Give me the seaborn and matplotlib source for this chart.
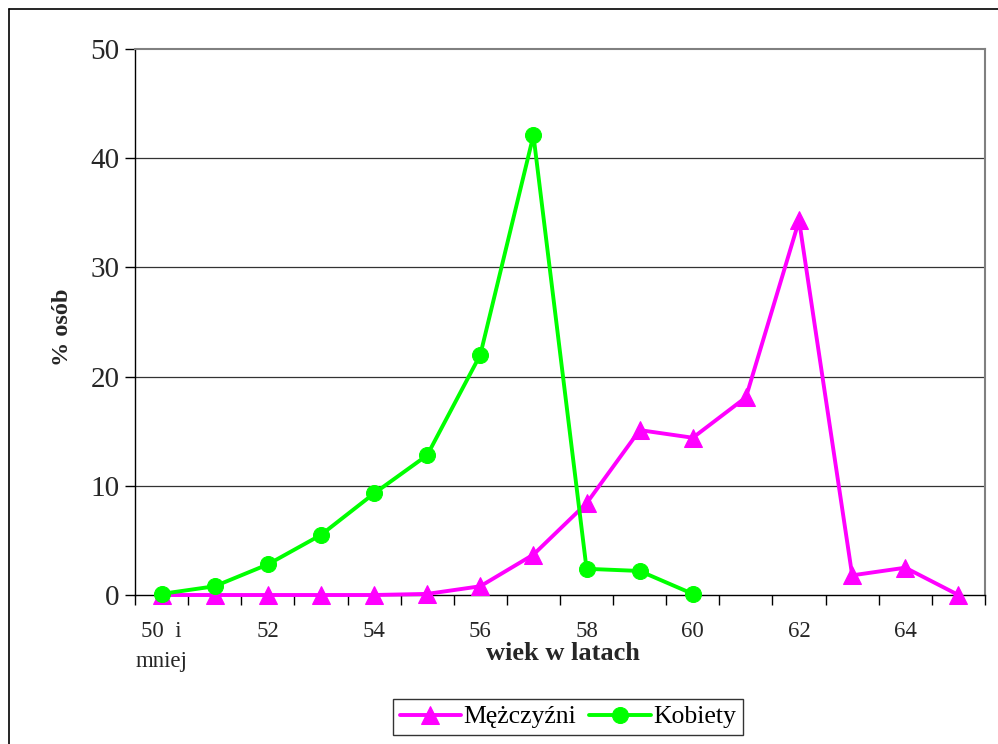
import matplotlib
matplotlib.use("Agg")
import matplotlib.pyplot as plt
from matplotlib.lines import Line2D
import numpy as np
import pandas as pd
import seaborn as sns

# dane
wiek = ["50  i\nmniej", "51", "52", "53", "54", "55", "56", "57",
        "58", "59", "60", "61", "62", "63", "64", "65"]
mezczyzni = [0.0, 0.0, 0.0, 0.0, 0.0, 0.1, 0.8, 3.7,
             8.4, 15.1, 14.4, 18.1, 34.3, 1.8, 2.5, 0.0]
kobiety = [0.1, 0.8, 2.8, 5.5, 9.3, 12.8, 22.0, 42.1, 2.4, 2.2, 0.1]
y_ticks = [0, 10, 20, 30, 40, 50]

C_MEN = "#FF00FF"
C_WOMEN = "#00FF00"

sns.set_theme(style="white")
plt.rcParams['font.family'] = ['Liberation Serif', 'DejaVu Serif']
plt.rcParams['text.color'] = 'black'

df_m = pd.DataFrame({'x': np.arange(len(mezczyzni)), 'y': mezczyzni})
df_k = pd.DataFrame({'x': np.arange(len(kobiety)), 'y': kobiety})

fig = plt.figure(figsize=(9.98, 7.44), dpi=100)
ax = fig.add_axes([135 / 998, 1 - 595 / 744, 850 / 998, 546 / 744])

sns.lineplot(data=df_m, x='x', y='y', ax=ax, color=C_MEN, linewidth=2.8,
             marker='^', markersize=13, markeredgecolor=C_MEN, label='Mężczyźni',
             clip_on=False, zorder=3)
sns.lineplot(data=df_k, x='x', y='y', ax=ax, color=C_WOMEN, linewidth=2.8,
             marker='o', markersize=11.5, markeredgecolor=C_WOMEN, label='Kobiety',
             clip_on=False, zorder=4)

ax.set_xlim(-0.5, len(wiek) - 0.5)
ax.set_ylim(0, 50)

# osie
ax.set_yticks(y_ticks)
ax.set_yticklabels([str(v) for v in y_ticks], fontsize=21)
ax.tick_params(axis='y', which='major', direction='out', length=7, width=1,
               color='black', pad=4, left=True)
ax.set_xticks(np.arange(-0.5, len(wiek)), labels=[])
ax.tick_params(axis='x', which='major', direction='out', length=7, width=1,
               color='black', bottom=True)
even = np.arange(0, len(wiek) - 1, 2)
ax.set_xticks(even, labels=[wiek[i] for i in even], minor=True)
ax.tick_params(axis='x', which='minor', length=0, pad=19, labelsize=16.5)
for lbl in ax.get_xticklabels(minor=True):
    lbl.set_multialignment('center')
    lbl.set_linespacing(1.55)

for v in y_ticks[1:-1]:
    ax.axhline(v, color='#333333', linewidth=0.9, zorder=0)

for s in ['left', 'bottom']:
    ax.spines[s].set_color('black')
    ax.spines[s].set_linewidth(1.0)
for s in ['top', 'right']:
    ax.spines[s].set_color('#808080')
    ax.spines[s].set_linewidth(1.5)

ax.set_xlabel("wiek w latach", fontsize=19, fontweight='bold')
ax.xaxis.set_label_coords((563 - 135) / 850, (595 - 654) / 546)
ax.xaxis.label.set_va('center')
ax.set_ylabel("% osób", fontsize=17.5, fontweight='bold')
ax.yaxis.set_label_coords((62 - 135) / 850, (595 - 327) / 546)
ax.yaxis.label.set_va('center')

leg = ax.legend(loc='center', bbox_to_anchor=(568 / 998, 27 / 744),
                bbox_transform=fig.transFigure, ncol=2, fontsize=18.5,
                frameon=True, fancybox=False, edgecolor='black',
                handlelength=2.4, handletextpad=0.1, columnspacing=0.5,
                borderpad=0.25, borderaxespad=0)
leg.get_frame().set_linewidth(1.0)

# ramka wykresu
fig.add_artist(Line2D([9 / 998, 1], [1 - 9 / 744, 1 - 9 / 744],
                      transform=fig.transFigure, color='black', linewidth=1.2))
fig.add_artist(Line2D([9 / 998, 9 / 998], [0, 1 - 9 / 744],
                      transform=fig.transFigure, color='black', linewidth=1.2))

plt.savefig("out.png", dpi=100)
plt.close()
